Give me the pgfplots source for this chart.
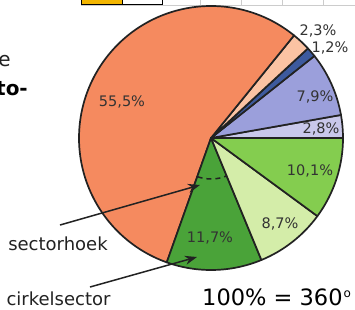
\documentclass[border=0pt]{standalone}
\usepackage{pgfplots}
\pgfplotsset{compat=1.18}
\usepackage{pgfplotstable}
\usepackage{fontspec}
\setmainfont{DejaVu Sans}
\usetikzlibrary{arrows.meta}
\definecolor{pieA}{HTML}{C9C8EB}
\definecolor{pieB}{HTML}{9B9FDB}
\definecolor{pieC}{HTML}{3D5A9E}
\definecolor{pieD}{HTML}{FBC3A3}
\definecolor{pieE}{HTML}{F58A5F}
\definecolor{pieF}{HTML}{4AA339}
\definecolor{pieG}{HTML}{D4EDA9}
\definecolor{pieH}{HTML}{84CD4F}
\definecolor{edge}{HTML}{222222}
\definecolor{lbl}{HTML}{333333}
\definecolor{topyellow}{HTML}{F2B500}
\pgfplotstableread{
pct colour
2.8 pieA
7.9 pieB
1.2 pieC
2.3 pieD
55.5 pieE
11.7 pieF
8.7 pieG
10.1 pieH
}\piedata
\begin{document}
\begin{tikzpicture}
\useasboundingbox (0,0) rectangle (355pt,309pt);
\clip (0,0) rectangle (355pt,309pt);
\begin{axis}[scale only axis, width=355pt, height=309pt,
  xmin=0, xmax=355, ymin=0, ymax=309, y dir=reverse,
  hide axis, clip=false, anchor=south west, at={(0,0)}]
% top fragments
\draw[gray!40, line width=0.6pt] (axis cs:81,5.5) -- (axis cs:355,5.5);
\foreach \xx in {200,241,282,323}{\edef\temp{\noexpand\draw[gray!40, line width=0.6pt] (axis cs:\xx,0) -- (axis cs:\xx,5.5);}\temp}
\filldraw[fill=topyellow, draw=black, line width=0.8pt] (axis cs:81,-2) rectangle (axis cs:122,4.5);
\filldraw[fill=white, draw=black, line width=0.8pt] (axis cs:122,-2) rectangle (axis cs:162,4.5);
% pie
\def\cum{0}
\pgfplotsforeachungrouped \i in {0,...,7} {
  \pgfplotstablegetelem{\i}{pct}\of\piedata \let\slicepct\pgfplotsretval
  \pgfplotstablegetelem{\i}{colour}\of\piedata \let\slicecol\pgfplotsretval
  \pgfmathsetmacro\sa{\cum/100.2*360}
  \pgfmathsetmacro\cum{\cum+\slicepct}
  \pgfmathsetmacro\sb{\cum/100.2*360}
  \edef\temp{\noexpand\filldraw[fill=\slicecol, draw=edge, line width=1.7pt, line join=round] (axis cs:211,138) -- ++(\sa:132pt) arc[start angle=\sa, end angle=\sb, radius=132pt] -- cycle;}
  \temp
}
% labels
\begin{scope}[every node/.style={text=lbl, font=\fontsize{14.5}{17}\selectfont, anchor=base, inner sep=0pt}]
\node at (axis cs:122,106) {55,5\%};
\node at (axis cs:318,35) {2,3\%};
\node at (axis cs:330,52) {1,2\%};
\node at (axis cs:315,101) {7,9\%};
\node at (axis cs:321,133) {2,8\%};
\node at (axis cs:310,175) {10,1\%};
\node at (axis cs:280,228) {8,7\%};
\node at (axis cs:210,242) {11,7\%};
\end{scope}
% sector angle
\draw[edge, line width=1.5pt, dash pattern=on 5pt off 4pt] (axis cs:211,138) ++(251:41pt) arc[start angle=251, end angle=293, radius=41pt];
% arrows
\draw[edge, line width=1.5pt, -{Stealth[length=12pt,width=9pt]}] (axis cs:60,225) -- (axis cs:200,185);
\draw[edge, line width=1.5pt, -{Stealth[length=12pt,width=9pt]}] (axis cs:90,287) -- (axis cs:197,257);
% annotations
\node[anchor=base, inner sep=0pt, text=edge, font=\fontsize{18}{21}\selectfont] at (axis cs:58,250) {sectorhoek};
\node[anchor=base, inner sep=0pt, text=edge, font=\fontsize{18}{21}\selectfont] at (axis cs:58.5,305) {cirkelsector};
\node[anchor=base west, inner sep=0pt, text=black, font=\fontsize{22.5}{25}\selectfont] at (axis cs:202,305.5) {100\% = 360\kern1pt{\fontsize{12}{12}\selectfont\raisebox{8.5pt}{o}}};
\node[anchor=base east, inner sep=0pt, text=edge, font=\fontsize{20}{24}\selectfont] at (axis cs:11,66) {e};
\node[anchor=base east, inner sep=0pt, text=black, font=\fontsize{20}{24}\selectfont\bfseries] at (axis cs:28,95) {to-};
\end{axis}
\end{tikzpicture}
\end{document}
